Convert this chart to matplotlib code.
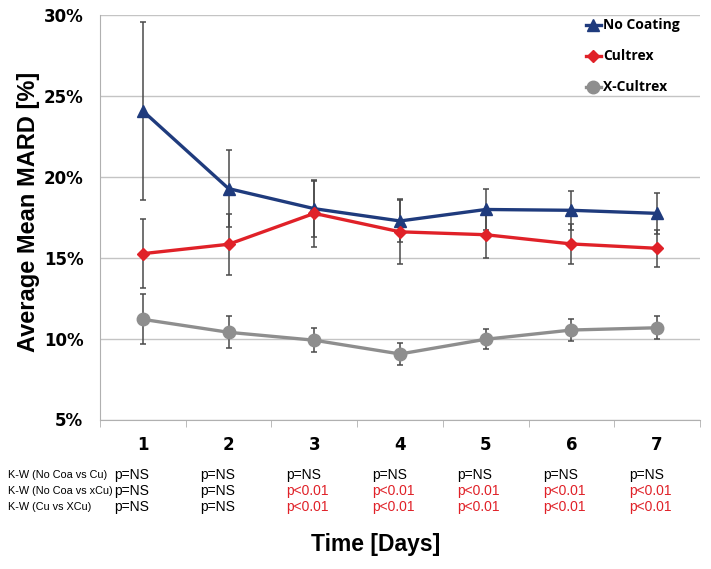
import numpy as np
import matplotlib
matplotlib.use("Agg")
import matplotlib.pyplot as plt
import matplotlib.transforms as mtransforms

days = [1, 2, 3, 4, 5, 6, 7]
no_coating = [24.07, 19.27, 18.03, 17.27, 17.98, 17.93, 17.74]
no_coating_err = [5.5, 2.4, 1.72, 1.3, 1.27, 1.22, 1.26]
cultrex = [15.25, 15.83, 17.74, 16.6, 16.42, 15.85, 15.58]
cultrex_err = [2.13, 1.87, 2.08, 2.0, 1.46, 1.25, 1.13]
x_cultrex = [11.19, 10.39, 9.9, 9.05, 9.96, 10.53, 10.67]
x_cultrex_err = [1.55, 0.98, 0.74, 0.66, 0.62, 0.68, 0.72]

row_labels = ["K-W (No Coa vs Cu)", "K-W (No Coa vs xCu)", "K-W (Cu vs XCu)"]
row_values = [
    ["p=NS"] * 7,
    ["p=NS", "p=NS", "p<0.01", "p<0.01", "p<0.01", "p<0.01", "p<0.01"],
    ["p=NS", "p=NS", "p<0.01", "p<0.01", "p<0.01", "p<0.01", "p<0.01"],
]

fig = plt.figure(figsize=(7.11, 5.69), dpi=100)
ax = fig.add_axes([100 / 711, 1 - 419.5 / 569, 600 / 711, 404.5 / 569])

series = [
    (no_coating, no_coating_err, "No Coating", "#1f3b7d", "^", 9),
    (cultrex, cultrex_err, "Cultrex", "#e02128", "D", 6),
    (x_cultrex, x_cultrex_err, "X-Cultrex", "#8e8e8e", "o", 9),
]
handles = []
for vals, err, name, col, mk, ms in series:
    ax.errorbar(days, vals, yerr=err, fmt="none", ecolor="#4a4a4a",
                elinewidth=1.1, capsize=2.2, capthick=1.1, zorder=2)
    h, = ax.plot(days, vals, color=col, lw=2.4, marker=mk, markersize=ms,
                 label=name, zorder=3)
    handles.append(h)

ax.set_xlim(0.5, 7.5)
ax.set_ylim(5, 30)
ax.set_yticks([5, 10, 15, 20, 25, 30])
ax.set_yticklabels(["5%", "10%", "15%", "20%", "25%", "30%"])
ax.set_xticks(days)
ax.set_xticklabels([str(d) for d in days])
ax.set_xticks(np.arange(0.5, 8, 1), minor=True)
ax.tick_params(axis="x", which="major", length=0, pad=12)
ax.tick_params(axis="x", which="minor", length=5, color="#b0b0b0", direction="out")
ax.tick_params(axis="y", length=0, pad=12)
for lab in ax.get_xticklabels() + ax.get_yticklabels():
    lab.set_fontweight("heavy")
    lab.set_fontsize(12)
    lab.set_family("DejaVu Sans")

ax.grid(axis="y", color="#c4c4c4", lw=1)
ax.set_axisbelow(True)
for s in ["top", "right"]:
    ax.spines[s].set_visible(False)
ax.spines["left"].set_color("#b0b0b0")
ax.spines["bottom"].set_color("#b0b0b0")

ax.set_ylabel("Average Mean MARD [%]", fontsize=17, fontweight="bold",
              family="Liberation Sans")
ax.yaxis.set_label_coords(-0.1, 0.513)

leg = ax.legend(handles=handles, loc="upper right", bbox_to_anchor=(0.98, 1.012),
                frameon=False, handlelength=1.1, handletextpad=0.15,
                labelspacing=1.22, borderaxespad=0.2,
                prop={"family": "Open Sans", "weight": "bold", "size": 10})

# K-W table below the axis
trans = mtransforms.blended_transform_factory(ax.transData, fig.transFigure)
row_y = [1 - 475 / 569, 1 - 491 / 569, 1 - 507 / 569]
for ry, lab, vals in zip(row_y, row_labels, row_values):
    fig.text(8 / 711, ry, lab, fontsize=7.8, family="Liberation Sans",
             va="center", ha="left")
    for d, v in zip(days, vals):
        col = "#e02128" if v.startswith("p<") else "black"
        fig.text(d - 0.33, ry, v, transform=trans, fontsize=10,
                 family="Liberation Sans", va="center", ha="left",
                 color=col)

fig.text(376 / 711, 1 - 545 / 569, "Time [Days]", fontsize=16.5, fontweight="bold",
         family="Liberation Sans", ha="center", va="center")

fig.savefig("out.png", dpi=100)
